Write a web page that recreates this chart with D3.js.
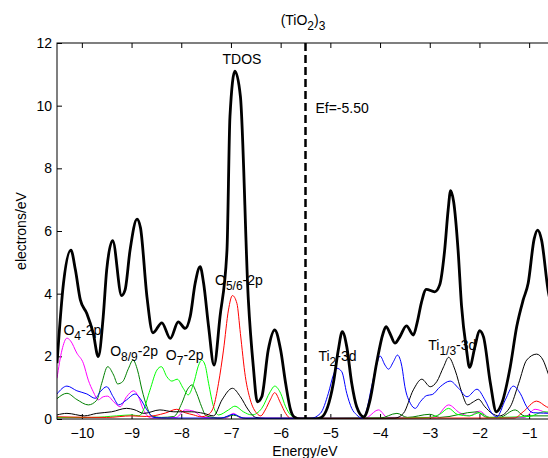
<!DOCTYPE html>
<html>
<head>
<meta charset="utf-8">
<script src="https://cdn.jsdelivr.net/npm/d3@7"></script>
<style>
  body { margin: 0; background: #fff; }
  text { font-family: "Liberation Sans", Arial, sans-serif; font-size: 14px; fill: #000; }
</style>
</head>
<body>
<svg id="chart" width="548" height="458"></svg>
<script>
// axes
const energyDomain = [-10.5, -0.5];
const dosDomain = [0, 12];
const energyTicks = [-10, -9, -8, -7, -6, -5, -4, -3, -2, -1];
const dosTicks = [0, 2, 4, 6, 8, 10, 12];
const fermi = -5.5;

// [energy, electrons/eV]
const tdos = [[-10.5,1.78],[-10.37,4.33],[-10.22,5.39],[-10.13,4.76],[-10.03,3.8],[-9.9,3.37],[-9.77,2.73],
  [-9.67,1.99],[-9.57,3.27],[-9.5,4.76],[-9.38,5.69],[-9.2,3.94],[-9.13,4.12],[-9.03,5.39],[-8.89,6.38],
  [-8.82,6.1],[-8.69,3.9],[-8.57,2.75],[-8.39,3.07],[-8.22,2.57],[-8.06,3.1],[-7.92,2.89],[-7.82,3.27],
  [-7.72,4.33],[-7.62,4.86],[-7.55,4.33],[-7.45,2.95],[-7.34,1.72],[-7.22,3.27],[-7.08,5.39],[-7.02,9.65],
  [-6.92,11.1],[-6.81,10.3],[-6.65,3.8],[-6.55,1.67],[-6.47,0.55],[-6.38,0.71],[-6.25,2.2],[-6.12,2.84],
  [-6.0,2.2],[-5.9,1.14],[-5.8,0.29],[-5.73,0.07],[-5.6,0],[-5.3,0],[-5.18,0.05],[-4.94,1.14],[-4.84,2.2],
  [-4.76,2.79],[-4.67,2.31],[-4.57,1.14],[-4.47,0.39],[-4.33,0.07],[-4.2,0.61],[-4.07,1.78],[-3.94,2.73],
  [-3.88,2.95],[-3.8,2.73],[-3.7,2.42],[-3.6,2.63],[-3.47,2.97],[-3.33,2.68],[-3.25,3.1],[-3.17,3.7],
  [-3.07,4.14],[-2.9,4.06],[-2.8,4.28],[-2.7,5.39],[-2.63,6.67],[-2.58,7.29],[-2.52,6.94],[-2.43,5.39],
  [-2.36,3.6],[-2.26,2.2],[-2.2,1.65],[-2.09,2.31],[-2.0,2.82],[-1.92,2.63],[-1.78,1.14],[-1.66,0.23],
  [-1.55,0.5],[-1.38,1.67],[-1.25,2.95],[-1.12,3.8],[-1.02,4.33],[-0.9,5.74],[-0.83,6.03],[-0.75,5.71],
  [-0.62,4.12],[-0.5,3.3]];

const ti13 = [[-10.5,0.13],[-10.3,0.18],[-9.95,0.1],[-9.7,0.18],[-9.4,0.23],[-9.1,0.34],[-8.95,0.3],
  [-8.75,0.18],[-8.43,0.29],[-8.15,0.23],[-7.8,0.23],[-7.55,0.18],[-7.35,0.1],[-7.18,0.61],[-6.97,0.98],
  [-6.81,0.71],[-6.65,0.29],[-6.5,0.05],[-6.3,0.02],[-3.7,0.03],[-3.53,0.18],[-3.33,0.93],[-3.16,1.27],
  [-2.99,1.03],[-2.86,1.19],[-2.72,1.67],[-2.62,1.97],[-2.49,1.56],[-2.35,0.82],[-2.24,0.45],[-2.12,0.55],
  [-2.02,0.63],[-1.89,0.39],[-1.75,0.18],[-1.6,0.1],[-1.38,0.39],[-1.21,1.14],[-1.05,1.88],[-0.85,2.07],
  [-0.72,1.88],[-0.62,1.46],[-0.5,0.9]];

const ti2 = [[-10.5,0.8],[-10.3,1.05],[-10.1,0.9],[-9.9,0.8],[-9.73,0.66],[-9.63,0.87],[-9.5,1.03],
  [-9.37,0.71],[-9.26,0.45],[-9.1,0.61],[-8.93,0.8],[-8.83,0.66],[-8.69,0.29],[-8.55,0.05],[-8.3,0.03],
  [-7.2,0.03],[-6.95,0.15],[-6.75,0.03],[-5.4,0.02],[-5.2,0.18],[-5.04,0.82],[-4.94,1.4],[-4.87,1.62],
  [-4.77,1.51],[-4.67,0.82],[-4.57,0.34],[-4.47,0.13],[-4.35,0.02],[-4.27,0.29],[-4.17,1.03],[-4.06,1.78],
  [-4.0,2.01],[-3.9,1.72],[-3.83,1.59],[-3.73,1.83],[-3.65,2.04],[-3.56,1.67],[-3.5,1.03],[-3.39,0.5],
  [-3.29,0.34],[-3.19,0.55],[-3.06,0.75],[-2.95,0.78],[-2.79,1.03],[-2.59,1.21],[-2.42,0.98],[-2.25,0.71],
  [-2.05,0.95],[-1.89,0.61],[-1.75,0.18],[-1.65,0.07],[-1.48,0.61],[-1.32,1.05],[-1.18,0.82],[-1.05,0.39],
  [-0.92,0.2],[-0.5,0.18]];

const o4 = [[-10.5,1.3],[-10.4,2.2],[-10.3,2.58],[-10.23,2.5],[-10.1,2.1],[-9.97,1.78],[-9.87,1.24],
  [-9.77,0.87],[-9.67,0.61],[-9.57,0.71],[-9.48,0.73],[-9.36,0.55],[-9.23,0.39],[-9.1,0.71],[-8.96,0.9],
  [-8.86,0.71],[-8.76,0.29],[-8.6,0.03],[-8.1,0.05],[-7.92,0.29],[-7.75,0.25],[-7.55,0.05],[-7.1,0.03],
  [-6.95,0.18],[-6.8,0.03],[-4.3,0.03],[-4.03,0.29],[-3.85,0.05],[-2.9,0.05],[-2.62,0.45],[-2.4,0.2],
  [-2.2,0.1],[-2.0,0.25],[-1.8,0.05],[-1.1,0.05],[-0.88,0.31],[-0.65,0.2],[-0.5,0.15]];

const o56 = [[-10.5,0.07],[-9.5,0.05],[-9.0,0.1],[-8.7,0.08],[-8.32,0.19],[-8.09,0.31],[-7.92,0.2],
  [-7.75,0.13],[-7.6,0.07],[-7.45,0.15],[-7.35,0.39],[-7.25,1.14],[-7.15,2.2],[-7.05,3.48],[-6.97,3.94],
  [-6.88,3.69],[-6.81,2.73],[-6.71,1.35],[-6.61,0.61],[-6.48,0.18],[-6.4,0.1],[-6.31,0.29],[-6.21,0.61],
  [-6.12,0.84],[-6.0,0.5],[-5.9,0.18],[-5.8,0.02],[-5.2,0.01],[-3.0,0.03],[-1.3,0.03],[-1.12,0.23],
  [-0.85,0.57],[-0.65,0.39],[-0.5,0.3]];

const o7 = [[-10.5,0.05],[-9.8,0.05],[-9.3,0.1],[-9.0,0.13],[-8.85,0.1],[-8.76,0.29],[-8.63,0.92],
  [-8.49,1.56],[-8.4,1.67],[-8.29,1.35],[-8.19,1.21],[-8.08,1.27],[-7.96,0.98],[-7.86,0.77],[-7.75,1.14],
  [-7.65,1.72],[-7.59,1.88],[-7.52,1.72],[-7.45,1.14],[-7.35,0.39],[-7.25,0.13],[-7.05,0.29],[-6.92,0.41],
  [-6.75,0.23],[-6.58,0.13],[-6.38,0.34],[-6.21,0.87],[-6.12,1.05],[-6.0,0.82],[-5.9,0.39],[-5.8,0.13],
  [-5.65,0.01],[-4.2,0.02],[-3.0,0.05],[-2.8,0.15],[-2.62,0.34],[-2.45,0.15],[-2.2,0.1],[-2.0,0.2],
  [-1.8,0.05],[-1.0,0.08],[-0.7,0.23],[-0.5,0.2]];

const o89 = [[-10.5,0.65],[-10.3,0.82],[-10.1,0.62],[-9.87,0.45],[-9.7,0.6],[-9.6,1.14],[-9.48,1.67],
  [-9.36,1.4],[-9.28,1.12],[-9.18,1.19],[-9.06,1.62],[-8.97,1.88],[-8.88,1.56],[-8.79,0.93],[-8.69,0.39],
  [-8.6,0.1],[-8.4,0.05],[-8.15,0.08],[-7.99,0.5],[-7.88,0.93],[-7.78,1.09],[-7.69,0.82],[-7.59,0.39],
  [-7.5,0.1],[-7.2,0.03],[-6.95,0.12],[-6.7,0.02],[-4.0,0.03],[-3.66,0.18],[-3.45,0.05],[-3.0,0.15],
  [-2.8,0.05],[-2.05,0.23],[-1.85,0.05],[-1.6,0.05],[-1.28,0.29],[-1.1,0.1],[-0.5,0.1]];

// label text pieces: [text, isSubscript], anchored at [energy, value]
const labels = [
  { at: [-7.17, 11.33], parts: [["TDOS", false]] },
  { at: [-5.30, 9.77], parts: [["Ef=-5.50", false]] },
  { at: [-10.37, 2.68], parts: [["O", false], ["4", true], ["-2p", false]] },
  { at: [-9.43, 2.01], parts: [["O", false], ["8/9", true], ["-2p", false]] },
  { at: [-8.31, 1.88], parts: [["O", false], ["7", true], ["-2p", false]] },
  { at: [-7.32, 4.28], parts: [["O", false], ["5/6", true], ["-2p", false]] },
  { at: [-5.24, 1.85], parts: [["Ti", false], ["2", true], ["-3d", false]] },
  { at: [-3.03, 2.2], parts: [["Ti", false], ["1/3", true], ["-3d", false]] }
];
const titleParts = [["(TiO", false], ["2", true], [")", false], ["3", true]];

// TODO: config
const margin = { left: 57, top: 43 };
const plotWidth = 497;
const plotHeight = 376;
const tickLen = 5;
const subShift = 5;

const svg = d3.select("#chart");

const x = d3.scaleLinear().domain(energyDomain).range([0, plotWidth]);
const y = d3.scaleLinear().domain(dosDomain).range([plotHeight, 0]);

const g = svg.append("g").attr("transform", `translate(${margin.left},${margin.top})`);

g.append("clipPath").attr("id", "plot-clip")
  .append("rect").attr("width", plotWidth).attr("height", plotHeight);

// ticks point inwards on all four sides, labels only left and bottom
g.append("g")
  .attr("transform", `translate(0,${plotHeight})`)
  .call(d3.axisBottom(x).tickValues(energyTicks).tickSizeInner(-tickLen).tickSizeOuter(0).tickPadding(9));
g.append("g")
  .call(d3.axisTop(x).tickValues(energyTicks).tickSizeInner(-tickLen).tickSizeOuter(0).tickFormat(""));
g.append("g")
  .call(d3.axisLeft(y).tickValues(dosTicks).tickSizeInner(-tickLen).tickSizeOuter(0).tickPadding(5));
g.append("g")
  .attr("transform", `translate(${plotWidth},0)`)
  .call(d3.axisRight(y).tickValues(dosTicks).tickSizeInner(-tickLen).tickSizeOuter(0).tickFormat(""));

g.selectAll(".domain").remove();
g.selectAll(".tick line").attr("stroke", "#000");
g.selectAll(".tick text").attr("font-size", 14).attr("font-family", null).attr("fill", "#000");

const curves = g.append("g").attr("clip-path", "url(#plot-clip)");

const line = d3.line()
  .x(d => x(d[0]))
  .y(d => y(d[1]))
  .curve(d3.curveMonotoneX);

const series = [
  { data: o4, color: "#ff00ff", width: 1 },
  { data: o89, color: "#008000", width: 1 },
  { data: o7, color: "#00ff00", width: 1 },
  { data: o56, color: "#ff0000", width: 1 },
  { data: ti13, color: "#000000", width: 1 },
  { data: ti2, color: "#0000ff", width: 1 },
  { data: tdos, color: "#000000", width: 2.8 }
];

curves.selectAll(".dos")
  .data(series)
  .enter().append("path")
  .attr("class", "dos")
  .attr("d", d => line(d.data))
  .attr("fill", "none")
  .attr("stroke", d => d.color)
  .attr("stroke-width", d => d.width)
  .attr("stroke-linejoin", "round");

// fermi level
curves.append("line")
  .attr("x1", x(fermi)).attr("x2", x(fermi))
  .attr("y1", 0).attr("y2", plotHeight)
  .attr("stroke", "#000")
  .attr("stroke-width", 2.5)
  .attr("stroke-dasharray", "8,4");

// frame
g.append("rect")
  .attr("width", plotWidth).attr("height", plotHeight)
  .attr("fill", "none").attr("stroke", "#000").attr("stroke-width", 1);

const writeParts = (textSel, parts) => {
  let shifted = false;
  parts.forEach(([str, sub]) => {
    const t = textSel.append("tspan").text(str);
    if (sub && !shifted) { t.attr("dy", subShift).attr("font-size", 12); shifted = true; }
    else if (!sub && shifted) { t.attr("dy", -subShift); shifted = false; }
    else if (sub) t.attr("font-size", 12);
  });
};

labels.forEach(l => {
  const t = g.append("text")
    .attr("x", x(l.at[0]))
    .attr("y", y(l.at[1]));
  writeParts(t, l.parts);
});

const title = svg.append("text")
  .attr("x", margin.left + 246)
  .attr("y", 25)
  .attr("text-anchor", "middle");
writeParts(title, titleParts);

svg.append("text")
  .attr("transform", `translate(26,${margin.top + plotHeight / 2}) rotate(-90)`)
  .attr("text-anchor", "middle")
  .text("electrons/eV");

svg.append("text")
  .attr("x", margin.left + 248)
  .attr("y", 456)
  .attr("text-anchor", "middle")
  .text("Energy/eV");
</script>
</body>
</html>
